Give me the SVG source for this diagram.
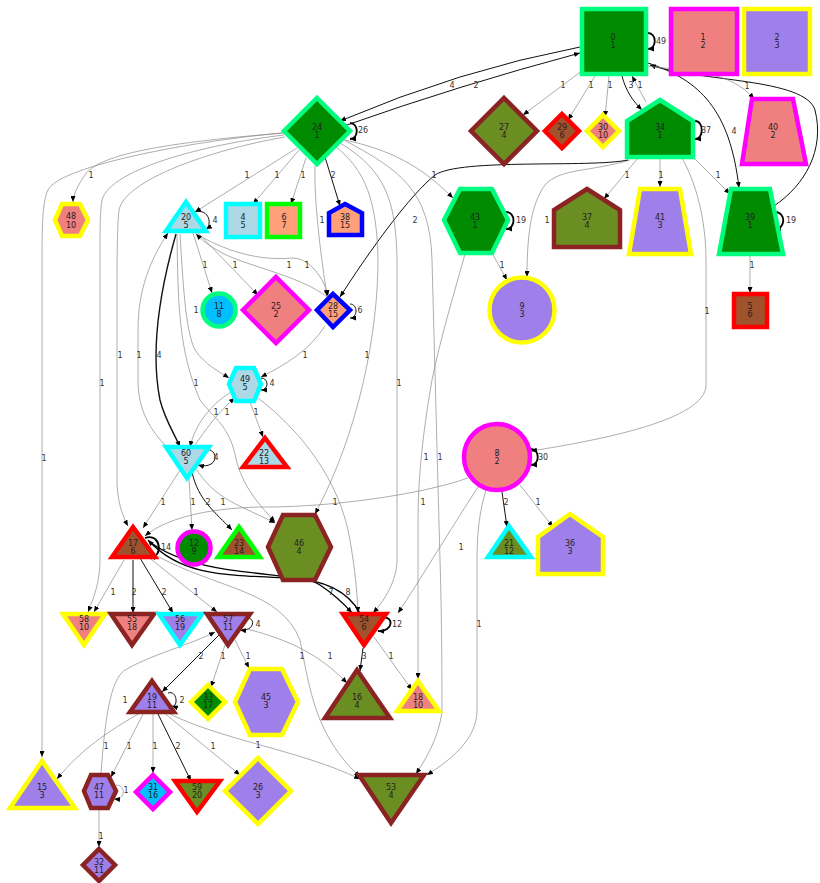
<svg xmlns="http://www.w3.org/2000/svg" width="820" height="883" viewBox="0 0 820 883">
<style>
text{font-family:"DejaVu Sans","Liberation Sans",sans-serif;font-size:8px;text-anchor:middle;dominant-baseline:central;fill:#222}
.s{stroke-width:4.5;stroke-linejoin:miter}
.g{fill:#008B00;stroke:#00FF7F}
.e1{fill:none;stroke:#8a8a8a;stroke-width:.7}
.e2{fill:none;stroke:#111;stroke-width:1}
.e3{fill:none;stroke:#000;stroke-width:1.8}
.el text{fill:#333}
</style>
<defs>
<marker id="a" viewBox="0 0 6 5" refX="6" refY="2.5" markerWidth="6" markerHeight="5" markerUnits="userSpaceOnUse" orient="auto"><path d="M0,0L6,2.5L0,5z" fill="#000"/></marker>
</defs>
<g id="edges" marker-end="url(#a)">
<path class="e3" d="M648,33C657,33 657,49 648,49"/>
<path class="e2" d="M580,47Q460,70 340,121"/>
<path class="e2" d="M344,126Q460,85 580,53"/>
<path class="e1" d="M583,70L523,115"/>
<path class="e1" d="M595,76L568,120"/>
<path class="e1" d="M609,76L605,117"/>
<path class="e2" d="M622,76C626,92 634,102 642,110"/>
<path class="e1" d="M646,102L632,76"/>
<path class="e2" d="M648,63C700,80 730,110 739,188"/>
<path class="e2" d="M774,206C805,185 825,150 815,110C805,78 700,82 650,65"/>
<path class="e1" d="M648,66C690,72 730,70 754,99"/>
<path class="e3" d="M695,121C704,121 704,139 695,139"/>
<path class="e1" d="M638,158L604,199"/>
<path class="e1" d="M660,159L660,187"/>
<path class="e1" d="M693,157L730,194"/>
<path class="e1" d="M682,158C700,190 706,230 706,260L706,385C706,420 600,440 531,451"/>
<path class="e1" d="M630,160C590,172 560,168 545,185C530,205 527,240 527,277"/>
<path class="e2" d="M628,160C590,168 460,158 435,175C410,195 370,250 340,297"/>
<path class="e3" d="M350,123C359,123 359,139 350,139"/>
<path class="e1" d="M283,133C200,140 100,150 85,175C78,185 73,195 73,202"/>
<path class="e1" d="M297,148L195,212"/>
<path class="e1" d="M299,150L253,204"/>
<path class="e1" d="M306,158L291,204"/>
<path class="e2" d="M325,157L340,206"/>
<path class="e1" d="M315,166C314,200 320,250 327,296"/>
<path class="e1" d="M345,140C390,150 420,165 453,198"/>
<path class="e1" d="M283,133C200,140 60,165 48,190C43,200 42,220 42,260L42,757"/>
<path class="e1" d="M284,135C200,145 110,170 102,200C100,210 100,230 100,260L100,560C100,580 95,595 88,612"/>
<path class="e1" d="M285,137C210,150 125,180 119,210C117,230 117,260 117,300L117,480C117,500 122,515 128,526"/>
<path class="e1" d="M336,147C365,170 377,200 378,260C378,330 360,430 315,514"/>
<path class="e1" d="M340,143C385,170 396,200 397,260L397,560C397,580 385,600 373,613"/>
<path class="e1" d="M344,140C400,170 430,190 432,260L440,560C442,620 442,700 442,712C438,740 425,760 416,774"/>
<path class="e1" d="M465,254C455,290 440,340 432,380C425,420 418,470 418,520L418,679"/>
<path class="e1" d="M486,490C480,510 477,530 477,560L477,710C477,740 450,760 427,775"/>
<path class="e1" d="M478,487C450,530 420,580 398,613"/>
<path class="e1" d="M468,478C420,495 330,507 267,507C220,507 170,515 145,536"/>
<path class="e3" d="M531,449C540,449 540,465 531,465"/>
<path class="e2" d="M502,492L507,527"/>
<path class="e1" d="M520,485L553,527"/>
<path class="e2" d="M195,212C210,208 212,226 206,229"/>
<path class="e1" d="M193,233L212,293"/>
<path class="e1" d="M197,232L258,295"/>
<path class="e1" d="M195,233C215,245 250,262 293,258C310,258 325,280 328,296"/>
<path class="e1" d="M327,297C300,275 240,265 217,250C205,243 200,238 196,234"/>
<path class="e1" d="M180,234C183,280 185,330 195,350C205,365 220,372 229,378"/>
<path class="e1" d="M177,234C178,300 178,350 200,400C215,420 230,425 237,463C245,490 260,505 275,522"/>
<path class="e2" style="stroke-width:1.4" d="M176,234C160,290 150,350 160,400C165,420 175,435 180,447"/>
<path class="e1" d="M167,447C150,430 138,410 138,380L138,330C138,290 150,260 168,233"/>
<path class="e1" d="M193,448C205,430 220,410 235,398"/>
<path class="e1" d="M231,392C210,405 195,425 190,447"/>
<path class="e2" d="M261,378C269,378 269,390 261,390"/>
<path class="e1" d="M250,402L263,437"/>
<path class="e1" d="M258,398C300,430 340,480 350,540C355,570 357,590 358,613"/>
<path class="e1" d="M325,326C310,350 285,365 261,377"/>
<path class="e2" d="M350,304C358,304 358,318 350,318"/>
<path class="e3" d="M506,212C516,212 516,229 506,229"/>
<path class="e1" d="M492,253L507,280"/>
<path class="e3" d="M775,212C786,212 786,229 775,229"/>
<path class="e1" d="M750,256L750,293"/>
<path class="e2" d="M206,449C220,450 218,470 198,465"/>
<path class="e1" d="M180,470L143,528"/>
<path class="e1" d="M189,478L192,530"/>
<path class="e2" d="M192,472C198,500 215,512 232,530"/>
<path class="e1" d="M195,467C215,500 240,505 275,523"/>
<path class="e3" d="M145,538C162,532 163,560 150,556"/>
<path class="e1" d="M124,560L94,612"/>
<path class="e2" d="M133,560L133,613"/>
<path class="e2" d="M140,558L173,613"/>
<path class="e1" d="M147,556L217,612"/>
<path class="e3" style="stroke-width:1.3" d="M150,542C200,580 300,570 320,585C335,595 345,605 352,613"/>
<path class="e3" style="stroke-width:1.3" d="M360,613C350,595 330,580 290,578C220,575 180,575 148,540"/>
<path class="e1" d="M155,555C220,590 280,590 300,640C310,690 315,735 360,777"/>
<path class="e2" d="M244,618C256,615 256,632 240,630"/>
<path class="e2" d="M220,634L162,692"/>
<path class="e1" d="M101,773C105,720 110,680 125,670C150,655 190,645 215,632"/>
<path class="e1" d="M225,645L211,687"/>
<path class="e1" d="M235,640L249,668"/>
<path class="e1" d="M247,629C290,640 320,655 347,683"/>
<path class="e3" d="M382,618C394,615 394,632 378,631"/>
<path class="e2" d="M363,648L360,671"/>
<path class="e1" d="M374,637L412,690"/>
<path class="e2" d="M168,693C178,690 178,708 172,706"/>
<path class="e1" d="M140,713C110,730 80,750 57,779"/>
<path class="e1" d="M143,714L111,777"/>
<path class="e1" d="M153,714L153,773"/>
<path class="e2" d="M158,714L191,781"/>
<path class="e1" d="M163,712L240,775"/>
<path class="e1" d="M166,712C220,740 300,750 360,779"/>
<path class="e1" d="M116,785C126,785 126,800 114,799"/>
<path class="e1" d="M99,809L99,847"/>
</g>
<g id="edge-labels" class="el">
<text x="661" y="41">49</text><text x="452" y="85">4</text><text x="476" y="85">2</text>
<text x="563" y="85">1</text><text x="591" y="85">1</text><text x="610" y="85">1</text><text x="631" y="85">3</text><text x="640" y="85">1</text>
<text x="734" y="131">4</text><text x="747" y="86">1</text><text x="706" y="130">37</text>
<text x="627" y="175">1</text><text x="661" y="175">1</text><text x="718" y="175">1</text><text x="707" y="311">1</text>
<text x="547" y="220">1</text><text x="415" y="220">2</text><text x="363" y="130">26</text>
<text x="91" y="175">1</text><text x="247" y="175">1</text><text x="277" y="175">1</text><text x="303" y="175">1</text><text x="333" y="175">2</text>
<text x="322" y="220">1</text><text x="434" y="175">1</text><text x="44" y="458">1</text><text x="102" y="383">1</text><text x="120" y="355">1</text>
<text x="367" y="355">1</text><text x="399" y="383">1</text><text x="440" y="457">1</text><text x="426" y="457">1</text>
<text x="479" y="624">1</text><text x="461" y="547">1</text><text x="423" y="502">1</text><text x="543" y="457">30</text>
<text x="506" y="502">2</text><text x="538" y="502">1</text><text x="215" y="220">4</text>
<text x="205" y="265">1</text><text x="235" y="265">1</text><text x="307" y="265">1</text><text x="289" y="265">1</text>
<text x="196" y="310">1</text><text x="196" y="383">1</text><text x="159" y="355">4</text><text x="139" y="355">1</text>
<text x="227" y="412">1</text><text x="216" y="412">1</text><text x="272" y="383">4</text><text x="256" y="412">1</text>
<text x="335" y="502">1</text><text x="305" y="355">1</text><text x="360" y="310">6</text>
<text x="521" y="220">19</text><text x="502" y="265">1</text><text x="791" y="220">19</text><text x="752" y="265">1</text>
<text x="216" y="457">4</text><text x="163" y="502">1</text><text x="193" y="502">1</text><text x="208" y="502">2</text><text x="223" y="502">1</text>
<text x="166" y="547">14</text><text x="113" y="592">1</text><text x="134" y="592">2</text><text x="164" y="592">2</text><text x="196" y="592">1</text>
<text x="331" y="592">7</text><text x="348" y="592">8</text><text x="302" y="656">1</text>
<text x="258" y="624">4</text><text x="201" y="656">2</text><text x="125" y="700">1</text><text x="223" y="656">1</text><text x="248" y="656">1</text><text x="330" y="656">1</text>
<text x="397" y="624">12</text><text x="364" y="656">3</text><text x="391" y="656">1</text>
<text x="182" y="700">2</text><text x="106" y="746">1</text><text x="129" y="746">1</text><text x="155" y="746">1</text><text x="178" y="746">2</text><text x="213" y="746">1</text><text x="258" y="745">1</text>
<text x="126" y="790">1</text><text x="101" y="836">1</text>
</g>
<g id="n0"><rect class="s g" x="582" y="9" width="64" height="65"/><text x="613" y="37">0</text><text x="613" y="45">1</text></g>
<g id="n1"><rect class="s" x="671" y="9" width="66" height="65" fill="#F08080" stroke="#FF00FF"/><text x="703" y="37">1</text><text x="703" y="45">2</text></g>
<g id="n2"><rect class="s" x="744" y="9" width="66" height="65" fill="#9F7FEA" stroke="#FFFF00"/><text x="777" y="37">2</text><text x="777" y="45">3</text></g>
<g id="n24"><polygon class="s g" points="317,98 350,131 317,164 284,131"/><text x="317" y="127">24</text><text x="317" y="135">1</text></g>
<g id="n27"><polygon class="s" points="504,98 537,131 504,164 471,131" fill="#6B8E23" stroke="#8B2323"/><text x="504" y="127">27</text><text x="504" y="135">4</text></g>
<g id="n29"><polygon class="s" points="562,114 579,131 562,148 545,131" fill="#A0522D" stroke="#FF0000"/><text x="562" y="127">29</text><text x="562" y="135">6</text></g>
<g id="n30"><polygon class="s" points="603,115 619,131 603,147 587,131" fill="#F08080" stroke="#FFFF00"/><text x="603" y="127">30</text><text x="603" y="135">10</text></g>
<g id="n34"><polygon class="s g" points="660,100 693,121 693,157 627,157 627,121"/><text x="660" y="127">34</text><text x="660" y="135">1</text></g>
<g id="n40"><polygon class="s" points="752,99 793,99 806,164 742,164" fill="#F08080" stroke="#FF00FF"/><text x="773" y="127">40</text><text x="773" y="135">2</text></g>
<g id="n48"><polygon class="s" points="55,220 62,204 80,204 88,220 80,236 62,236" fill="#F08080" stroke="#FFFF00"/><text x="71" y="216">48</text><text x="71" y="225">10</text></g>
<g id="n20"><polygon class="s" points="186,202 206,231 166,231" fill="#ADD8E6" stroke="#00FFFF"/><text x="186" y="217">20</text><text x="186" y="225">5</text></g>
<g id="n4"><rect class="s" x="226" y="204" width="34" height="33" fill="#ADD8E6" stroke="#00FFFF"/><text x="243" y="217">4</text><text x="243" y="225">5</text></g>
<g id="n6"><rect class="s" x="267" y="204" width="33" height="33" fill="#FFA07A" stroke="#00FF00"/><text x="284" y="217">6</text><text x="284" y="225">7</text></g>
<g id="n38"><polygon class="s" points="345,204 362,213 362,235 329,235 329,213" fill="#FFA07A" stroke="#0000FF"/><text x="345" y="217">38</text><text x="345" y="225">15</text></g>
<g id="n43"><polygon class="s g" points="444,220 460,189 492,189 508,220 492,253 460,253"/><text x="475" y="217">43</text><text x="475" y="225">1</text></g>
<g id="n37"><polygon class="s" points="587,189 620,210 620,247 554,247 554,210" fill="#6B8E23" stroke="#8B2323"/><text x="587" y="217">37</text><text x="587" y="225">4</text></g>
<g id="n41"><polygon class="s" points="640,189 680,189 691,254 629,254" fill="#9F7FEA" stroke="#FFFF00"/><text x="660" y="217">41</text><text x="660" y="225">3</text></g>
<g id="n39"><polygon class="s g" points="731,189 770,189 783,254 719,254"/><text x="750" y="217">39</text><text x="750" y="225">1</text></g>
<g id="n5"><rect class="s" x="734" y="294" width="33" height="33" fill="#A0522D" stroke="#FF0000"/><text x="750" y="306">5</text><text x="750" y="314">6</text></g>
<g id="n11"><circle class="s" cx="219" cy="310" r="16.5" fill="#00BFFF" stroke="#00FF7F"/><text x="219" y="306">11</text><text x="219" y="314">8</text></g>
<g id="n25"><polygon class="s" points="276,277 309,310 276,343 243,310" fill="#F08080" stroke="#FF00FF"/><text x="276" y="306">25</text><text x="276" y="314">2</text></g>
<g id="n28"><polygon class="s" points="333,294 350,310 333,327 317,310" fill="#FFA07A" stroke="#0000FF"/><text x="333" y="306">28</text><text x="333" y="314">15</text></g>
<g id="n9"><circle class="s" cx="522" cy="310" r="32.5" fill="#9F7FEA" stroke="#FFFF00"/><text x="522" y="306">9</text><text x="522" y="314">3</text></g>
<g id="n49"><polygon class="s" points="229,384 236,368 254,368 261,384 254,401 236,401" fill="#ADD8E6" stroke="#00FFFF"/><text x="245" y="379">49</text><text x="245" y="387">5</text></g>
<g id="n22"><polygon class="s" points="265,438 287,467 243,467" fill="#ADD8E6" stroke="#FF0000"/><text x="264" y="453">22</text><text x="264" y="461">13</text></g>
<g id="n60"><polygon class="s" points="166,447 209,447 187,478" fill="#ADD8E6" stroke="#00FFFF"/><text x="186" y="453">60</text><text x="186" y="461">5</text></g>
<g id="n8"><circle class="s" cx="497" cy="457" r="33" fill="#F08080" stroke="#FF00FF"/><text x="497" y="453">8</text><text x="497" y="461">2</text></g>
<g id="n17"><polygon class="s" points="133,527 155,557 112,557" fill="#A0522D" stroke="#FF0000"/><text x="133" y="543">17</text><text x="133" y="551">6</text></g>
<g id="n12"><circle class="s" cx="194" cy="548" r="16.5" fill="#008B00" stroke="#FF00FF"/><text x="194" y="543">12</text><text x="194" y="551">9</text></g>
<g id="n23"><polygon class="s" points="239,527 260,557 218,557" fill="#A0522D" stroke="#00FF00"/><text x="239" y="543">23</text><text x="239" y="551">14</text></g>
<g id="n46"><polygon class="s" points="268,547 283,515 315,515 331,547 315,580 283,580" fill="#6B8E23" stroke="#8B2323"/><text x="299" y="543">46</text><text x="299" y="551">4</text></g>
<g id="n21"><polygon class="s" points="509,526 531,557 488,557" fill="#6B8E23" stroke="#00FFFF"/><text x="509" y="543">21</text><text x="509" y="551">12</text></g>
<g id="n36"><polygon class="s" points="570,514 603,537 603,574 538,574 538,537" fill="#9F7FEA" stroke="#FFFF00"/><text x="570" y="543">36</text><text x="570" y="551">3</text></g>
<g id="n58"><polygon class="s" points="63,614 105,614 84,645" fill="#F08080" stroke="#FFFF00"/><text x="84" y="619">58</text><text x="84" y="627">10</text></g>
<g id="n55"><polygon class="s" points="111,614 154,614 132,645" fill="#F08080" stroke="#8B2323"/><text x="132" y="619">55</text><text x="132" y="627">18</text></g>
<g id="n56"><polygon class="s" points="159,614 202,614 180,645" fill="#9F7FEA" stroke="#00FFFF"/><text x="180" y="619">56</text><text x="180" y="627">19</text></g>
<g id="n57"><polygon class="s" points="207,614 250,614 228,645" fill="#9F7FEA" stroke="#8B2323"/><text x="228" y="619">57</text><text x="228" y="627">11</text></g>
<g id="n54"><polygon class="s" points="343,614 386,614 364,645" fill="#A0522D" stroke="#FF0000"/><text x="364" y="619">54</text><text x="364" y="627">6</text></g>
<g id="n19"><polygon class="s" points="152,681 174,712 130,712" fill="#9F7FEA" stroke="#8B2323"/><text x="152" y="697">19</text><text x="152" y="705">11</text></g>
<g id="n33"><polygon class="s" points="208,685 225,702 208,719 191,702" fill="#008B00" stroke="#FFFF00"/><text x="208" y="697">33</text><text x="208" y="705">17</text></g>
<g id="n45"><polygon class="s" points="235,702 250,669 282,669 298,702 282,735 250,735" fill="#9F7FEA" stroke="#FFFF00"/><text x="266" y="697">45</text><text x="266" y="705">3</text></g>
<g id="n16"><polygon class="s" points="357,670 390,718 325,718" fill="#6B8E23" stroke="#8B2323"/><text x="357" y="697">16</text><text x="357" y="705">4</text></g>
<g id="n18"><polygon class="s" points="418,681 439,711 397,711" fill="#F08080" stroke="#FFFF00"/><text x="418" y="697">18</text><text x="418" y="705">10</text></g>
<g id="n15"><polygon class="s" points="42,761 75,808 10,808" fill="#9F7FEA" stroke="#FFFF00"/><text x="42" y="787">15</text><text x="42" y="795">3</text></g>
<g id="n47"><polygon class="s" points="84,791 91,775 108,775 116,791 108,808 91,808" fill="#9F7FEA" stroke="#8B2323"/><text x="99" y="787">47</text><text x="99" y="795">11</text></g>
<g id="n31"><polygon class="s" points="153,775 170,792 153,809 136,792" fill="#00BFFF" stroke="#FF00FF"/><text x="153" y="787">31</text><text x="153" y="795">16</text></g>
<g id="n59"><polygon class="s" points="175,781 220,781 197,812" fill="#6B8E23" stroke="#FF0000"/><text x="197" y="787">59</text><text x="197" y="795">20</text></g>
<g id="n26"><polygon class="s" points="258,758 291,791 258,824 225,791" fill="#9F7FEA" stroke="#FFFF00"/><text x="258" y="787">26</text><text x="258" y="795">3</text></g>
<g id="n53"><polygon class="s" points="359,775 424,775 391,823" fill="#6B8E23" stroke="#8B2323"/><text x="391" y="787">53</text><text x="391" y="795">4</text></g>
<g id="n32"><polygon class="s" points="99,849 115,865 99,881 83,865" fill="#9F7FEA" stroke="#8B2323"/><text x="99" y="862">32</text><text x="99" y="870">11</text></g>
</svg>
